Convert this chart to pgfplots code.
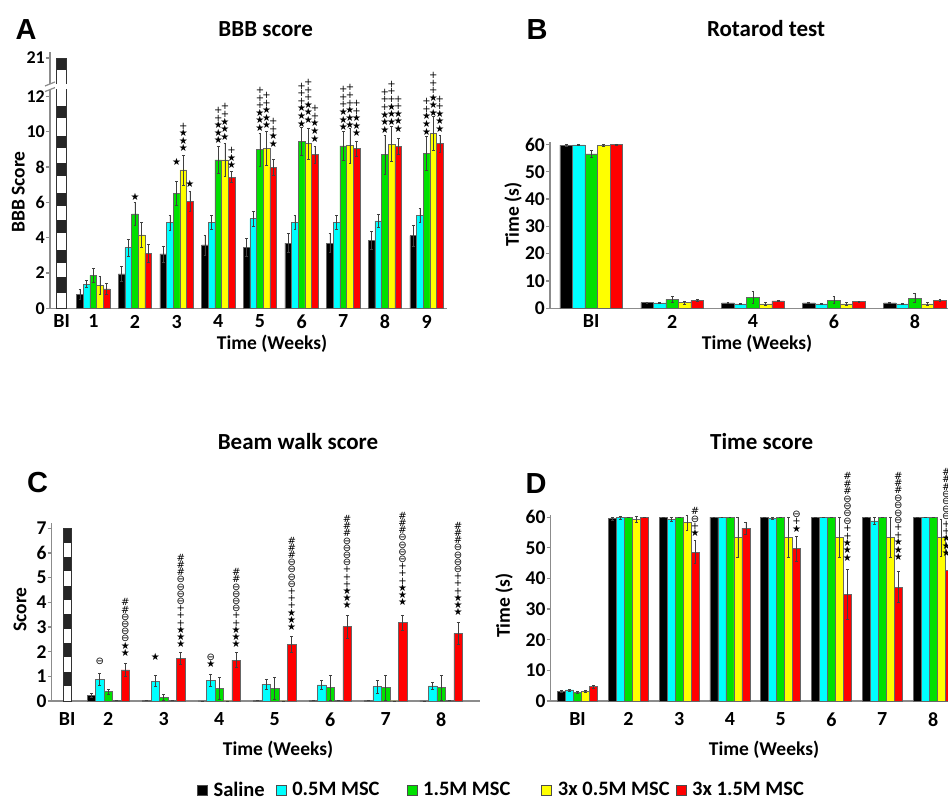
\documentclass[border=0pt]{standalone}
\usepackage{pgfplots}
\pgfplotsset{compat=1.18}
\usepackage{pgfplotstable}
\usepackage{fontspec}
\setmainfont{Carlito}
\newfontfamily\symf{DejaVu Sans}
\newfontfamily\arialf{Liberation Sans}
\lineskiplimit=-20pt

\definecolor{cCy}{HTML}{00FFFF}
\definecolor{cGr}{HTML}{00E000}
\definecolor{cYe}{HTML}{FFFF00}
\definecolor{cRe}{HTML}{FF0000}
\definecolor{axgray}{HTML}{8C8C8C}

% BBB score
\pgfplotstableread{
x s se c ce g ge y ye r re
1 0.79 0.30 1.36 0.20 1.87 0.40 1.29 0.50 1.10 0.30
2 1.95 0.40 3.44 0.47 5.35 0.64 4.16 0.70 3.12 0.50
3 3.08 0.45 4.86 0.43 6.52 0.66 7.84 0.85 6.05 0.57
4 3.59 0.57 4.86 0.38 8.41 0.76 8.41 0.95 7.43 0.32
5 3.46 0.51 5.07 0.42 8.98 0.95 9.07 0.95 8.00 0.45
6 3.69 0.53 4.86 0.38 9.45 0.80 9.32 0.90 8.70 0.47
7 3.69 0.53 4.86 0.38 9.20 0.80 9.22 1.00 9.04 0.42
8 3.84 0.50 4.95 0.35 8.70 1.10 9.30 1.00 9.17 0.47
9 4.12 0.60 5.26 0.40 8.79 0.95 9.92 0.95 9.32 0.50
}\dataA
% Rotarod
\pgfplotstableread{
x s se c ce g ge y ye r re
0 59.7 0.3 59.8 0.3 56.5 1.2 59.7 0.3 59.9 0.3
1 2.1 0.2 2.0 0.2 3.3 1.1 2.1 0.6 2.8 0.3
2 2.0 0.2 1.6 0.3 3.9 2.2 1.6 0.4 2.7 0.2
3 2.0 0.2 1.6 0.3 3.0 1.3 1.6 0.5 2.4 0.2
4 2.0 0.2 1.6 0.3 3.7 1.6 1.6 0.5 2.9 0.3
}\dataB
% Beam walk
\pgfplotstableread{
x s se c ce g ge y ye r re
2 0.24 0.08 0.88 0.25 0.38 0.10 0.02 0 1.26 0.25
3 0.02 0 0.81 0.22 0.15 0.12 0.01 0 1.73 0.25
4 0.00 0 0.85 0.25 0.51 0.45 0.00 0 1.66 0.30
5 0.02 0 0.68 0.20 0.51 0.45 0.00 0 2.30 0.33
6 0.02 0 0.65 0.18 0.54 0.50 0.02 0 3.01 0.47
7 0.02 0 0.58 0.25 0.54 0.50 0.00 0 3.17 0.32
8 0.00 0 0.61 0.15 0.54 0.50 0.03 0 2.74 0.45
}\dataC
% Time score
\pgfplotstableread{
x s se c ce g ge y ye r re
1 3.05 0.3 3.6 0.3 2.7 0.3 3.05 0.3 4.7 0.5
2 59.5 0.5 59.8 0.4 60 0 59.2 1.0 60 0
3 60 0 59.2 0.6 60 0 58.2 2.5 48.6 3.8
4 60 0 60 0 60 0 53.3 6.5 56.4 2.0
5 60 0 59.7 0.3 60 0 53.5 6.5 49.7 4.0
6 60 0 60 0 60 0 53.5 6.5 34.8 8.0
7 60 0 58.8 1.0 60 0 53.5 6.5 37.2 5.0
8 60 0 60 0 60 0 53.3 6.0 42.5 5.0
}\dataD

\pgfplotsset{
  panel/.style={
    scale only axis, clip=false,
    axis lines*=left,
    axis line style={draw=axgray, line width=1.4pt},
    ytick align=outside, xtick align=inside, major tick length=4pt,
    ytick style={draw=axgray, line width=1.2pt},
    xtick style={draw=none},
    /pgf/number format/assume math mode=true,
    yticklabel style={font=\fontsize{19.5}{19.5}\selectfont\bfseries, inner sep=0pt, xshift=-1pt},
    xticklabel style={font=\fontsize{20}{20}\selectfont\bfseries, inner sep=0pt, yshift=-2.5pt},
    ybar,
    error bars/y dir=both, error bars/y explicit,
    error bars/error bar style={line width=0.7pt, black!75},
    error bars/error mark options={rotate=90, mark size=1.4pt, line width=0.7pt, black!75},
  },
}
\newcommand{\fivebars}[3]{%
  \addplot[forget plot, fill=black, draw=black!60, line width=0.6pt, bar shift=-#3] table[x=x,y=s,y error=se]{#1};
  \addplot[forget plot, fill=cCy, draw=black!60, line width=0.6pt, bar shift=-#2] table[x=x,y=c,y error=ce]{#1};
  \addplot[forget plot, fill=cGr, draw=black!60, line width=0.6pt, bar shift=0] table[x=x,y=g,y error=ge]{#1};
  \addplot[forget plot, fill=cYe, draw=black!60, line width=0.6pt, bar shift=#2] table[x=x,y=y,y error=ye]{#1};
  \addplot[forget plot, fill=cRe, draw=black!60, line width=0.6pt, bar shift=#3] table[x=x,y=r,y error=re]{#1};
}
% one band of the chequered baseline column
\newcommand{\seg}[4]{\addplot[forget plot, fill=#1, draw=none, bar width=#4, bar shift=0, error bars/y dir=none] coordinates {(#2,#3)};}
\newcommand{\ann}[4]{\node[anchor=south, inner sep=0pt, align=center, font=\symf\fontsize{10}{#1}\selectfont] at (axis cs:#2,#3) {#4};}
\newcommand{\gap}[1]{\rule{#1}{0pt}}

\begin{document}
\begin{tikzpicture}[font=\bfseries]
\useasboundingbox (0,0) rectangle (948pt,803pt);
\clip (0,0) rectangle (948pt,803pt);

% ---------- A ----------
\begin{axis}[panel, at={(50pt,494.7pt)}, anchor=south west,
  width=397pt, height=256.3pt,
  xmin=-0.04, xmax=9.49, ymin=0, ymax=14.52,
  bar width=0.16,
  xtick={0.24,1,2,3,4,5,6,7,8,9}, xticklabels={BI,1,2,3,4,5,6,7,8,9},
  ytick={0,2,4,6,8,10,12,14.18}, yticklabels={0,2,4,6,8,10,12,21},
  yticklabel style={font=\fontsize{18}{18}\selectfont\bfseries},
]
\seg{black!85}{0.24}{14.18}{0.24}
\seg{white}{0.24}{13.52}{0.24}
\seg{black!85}{0.24}{11.44}{0.24}
\seg{white}{0.24}{10.78}{0.24}
\seg{black!85}{0.24}{9.74}{0.24}
\seg{white}{0.24}{9.07}{0.24}
\seg{black!85}{0.24}{8.22}{0.24}
\seg{white}{0.24}{7.47}{0.24}
\seg{black!85}{0.24}{6.52}{0.24}
\seg{white}{0.24}{5.77}{0.24}
\seg{black!85}{0.24}{5.01}{0.24}
\seg{white}{0.24}{4.25}{0.24}
\seg{black!85}{0.24}{3.31}{0.24}
\seg{white}{0.24}{2.55}{0.24}
\seg{black!85}{0.24}{1.80}{0.24}
\seg{white}{0.24}{0.85}{0.24}
\addplot[forget plot, fill=none, draw=black!80, line width=0.7pt, bar width=0.24, bar shift=0, error bars/y dir=none] coordinates {(0.24,14.18)};
\fivebars{\dataA}{0.16}{0.32}
\fill[white] (axis cs:-0.04,12.42) ++(-6pt,0pt) rectangle (axis cs:0.40,12.68);
\draw[axgray, line width=1.2pt] (axis cs:-0.04,12.42) ++(-5pt,-2.5pt) -- ++(10pt,4pt);
\draw[axgray, line width=1.2pt] (axis cs:-0.04,12.68) ++(-5pt,-1.5pt) -- ++(10pt,4pt);
\ann{7.6}{2}{6.1}{★}
\ann{7.6}{3}{8.1}{★}
\ann{7.6}{3.16}{8.85}{+\\★\\★\\★}
\ann{7.6}{3.32}{6.85}{★}
\ann{7.6}{4}{9.3}{+\\+\\★\\★\\★}
\ann{7.6}{4.16}{9.5}{+\\+\\★\\★\\★}
\ann{7.6}{4.32}{7.9}{+\\★\\★}
\ann{7.6}{5}{10.0}{+\\+\\+\\★\\★\\★}
\ann{7.6}{5.16}{10.15}{+\\+\\★\\★\\★}
\ann{7.6}{5.32}{9.1}{+\\+\\★\\★}
\ann{7.6}{6}{10.25}{+\\+\\+\\★\\★\\★}
\ann{7.6}{6.16}{10.45}{+\\+\\+\\★\\★\\★}
\ann{7.6}{6.32}{9.4}{+\\+\\★\\★\\★}
\ann{7.6}{7}{10.05}{+\\+\\+\\★\\★\\★}
\ann{7.6}{7.16}{10.15}{+\\+\\+\\★\\★\\★}
\ann{7.6}{7.32}{9.7}{+\\+\\★\\★\\★}
\ann{7.6}{8}{9.9}{+\\+\\+\\★\\★\\★}
\ann{7.6}{8.16}{10.35}{+\\+\\+\\★\\★\\★}
\ann{7.6}{8.32}{9.95}{+\\+\\★\\★\\★}
\ann{7.6}{9}{9.8}{+\\+\\★\\★\\★}
\ann{7.6}{9.16}{10.85}{+\\+\\+\\★\\★\\★}
\ann{7.6}{9.32}{9.95}{+\\+\\★\\★\\★}
\end{axis}

% ---------- B ----------
\begin{axis}[panel, at={(550pt,494.7pt)}, anchor=south west,
  width=405.3pt, height=166.6pt,
  xmin=-0.51, xmax=4.5, ymin=0, ymax=61,
  bar width=0.155,
  xtick={0,1,2,3,4}, xticklabels={BI,2,4,6,8},
  ytick={0,10,20,30,40,50,60},
]
\fivebars{\dataB}{0.155}{0.31}
\end{axis}

% ---------- C ----------
\begin{axis}[panel, at={(51.7pt,102pt)}, anchor=south west,
  width=428.3pt, height=177.7pt,
  xmin=0.98, xmax=8.70, ymin=0, ymax=7.2,
  bar width=0.153,
  xtick={1.26,2,3,4,5,6,7,8}, xticklabels={BI,2,3,4,5,6,7,8},
  ytick={0,1,2,3,4,5,6,7},
  xticklabel style={yshift=-5pt},
  legend image code/.code={\draw[#1, line width=0.7pt] (0pt,-5pt) rectangle (10pt,5pt); \path (16pt,0pt);},
  legend style={at={(axis description cs:0.3393,-0.5008)}, anchor=west, draw=none, fill=none,
    inner sep=0pt, outer sep=0pt, nodes={inner sep=0pt}, legend columns=5,
    font=\fontsize{20.5}{20.5}\selectfont\bfseries,
    /tikz/every even column/.append style={column sep=6pt}},
  legend cell align=left,
]
\seg{black!85}{1.26}{7.00}{0.15}
\seg{white}{1.26}{6.42}{0.15}
\seg{black!85}{1.26}{5.84}{0.15}
\seg{white}{1.26}{5.26}{0.15}
\seg{black!85}{1.26}{4.67}{0.15}
\seg{white}{1.26}{4.09}{0.15}
\seg{black!85}{1.26}{3.51}{0.15}
\seg{white}{1.26}{2.93}{0.15}
\seg{black!85}{1.26}{2.35}{0.15}
\seg{white}{1.26}{1.77}{0.15}
\seg{black!85}{1.26}{1.19}{0.15}
\seg{white}{1.26}{0.60}{0.15}
\addplot[forget plot, fill=none, draw=black!80, line width=0.7pt, bar width=0.15, bar shift=0, error bars/y dir=none] coordinates {(1.26,7)};
\fivebars{\dataC}{0.153}{0.306}
\addlegendimage{fill=black, draw=black!70}
\addlegendimage{fill=cCy, draw=black!70}
\addlegendimage{fill=cGr, draw=black!70}
\addlegendimage{fill=cYe, draw=black!70}
\addlegendimage{fill=cRe, draw=black!70}
\legend{Saline\gap{5pt}, 0.5M MSC\gap{21pt}, 1.5M MSC\gap{25pt}, 3x 0.5M MSC, 3x 1.5M MSC}
\ann{7.2}{1.847}{1.45}{⊖}
\ann{7.2}{2.306}{1.8}{\#\\\#\\⊖\\⊖\\⊖\\⊖\\★\\★}
\ann{7.2}{2.847}{1.62}{★}
\ann{7.2}{3.306}{2.15}{\#\\\#\\\#\\⊖\\⊖\\⊖\\⊖\\+\\+\\+\\★\\★\\★}
\ann{7.2}{3.847}{1.35}{⊖\\★}
\ann{7.2}{4.306}{2.15}{\#\\\#\\⊖\\⊖\\⊖\\⊖\\+\\+\\★\\★\\★}
\ann{7.2}{5.306}{2.85}{\#\\\#\\\#\\⊖\\⊖\\⊖\\⊖\\+\\+\\+\\★\\★\\★}
\ann{7.2}{6.306}{3.72}{\#\\\#\\\#\\⊖\\⊖\\⊖\\⊖\\+\\+\\+\\★\\★\\★}
\ann{7.2}{7.306}{3.85}{\#\\\#\\\#\\⊖\\⊖\\⊖\\⊖\\+\\+\\+\\★\\★\\★}
\ann{7.2}{8.306}{3.45}{\#\\\#\\\#\\⊖\\⊖\\⊖\\⊖\\+\\+\\+\\★\\★\\★}
\end{axis}

% ---------- D ----------
\begin{axis}[panel, at={(550.7pt,102pt)}, anchor=south west,
  width=407.8pt, height=186pt,
  xmin=0.472, xmax=8.5, ymin=0, ymax=60.7,
  bar width=0.157,
  xtick={1,2,3,4,5,6,7,8}, xticklabels={BI,2,3,4,5,6,7,8},
  ytick={0,10,20,30,40,50,60},
  xticklabel style={yshift=-5pt},
]
\fivebars{\dataD}{0.157}{0.314}
\ann{7.4}{3.314}{53.5}{\#\\⊖\\+\\★}
\ann{7.4}{5.314}{55.0}{⊖\\+\\★}
\ann{7.4}{6.314}{45.5}{\#\\\#\\\#\\⊖\\⊖\\⊖\\⊖\\+\\+\\★\\★\\★}
\ann{7.4}{7.314}{45.8}{\#\\\#\\\#\\⊖\\⊖\\⊖\\⊖\\+\\+\\★\\★\\★}
\ann{7.4}{8.26}{47.0}{\#\\\#\\\#\\⊖\\⊖\\⊖\\⊖\\+\\+\\★\\★\\★}
\end{axis}

% ---------- titles and labels ----------
\node[font=\arialf\bfseries\fontsize{29}{29}\selectfont] at (26pt,773pt) {A};
\node[font=\arialf\bfseries\fontsize{29}{29}\selectfont] at (537pt,773pt) {B};
\node[font=\arialf\bfseries\fontsize{29}{29}\selectfont] at (37.5pt,320.5pt) {C};
\node[font=\arialf\bfseries\fontsize{29}{29}\selectfont] at (536pt,319.5pt) {D};
\node[font=\fontsize{23}{24}\selectfont\bfseries] at (265.7pt,773.5pt) {BBB score};
\node[font=\fontsize{23}{24}\selectfont\bfseries] at (766pt,774pt) {Rotarod test};
\node[font=\fontsize{23}{24}\selectfont\bfseries] at (298pt,361.3pt) {Beam walk score};
\node[font=\fontsize{23}{24}\selectfont\bfseries] at (761.7pt,361.3pt) {Time score};
\node[font=\fontsize{19.5}{20}\selectfont\bfseries, rotate=90] at (18.3pt,611pt) {BBB Score};
\node[font=\fontsize{19.5}{20}\selectfont\bfseries, rotate=90] at (513pt,588.5pt) {Time (s)};
\node[font=\fontsize{19.5}{20}\selectfont\bfseries, rotate=90] at (20pt,193.5pt) {Score};
\node[font=\fontsize{19.5}{20}\selectfont\bfseries, rotate=90] at (504pt,197.3pt) {Time (s)};
\node[font=\fontsize{19.5}{20}\selectfont\bfseries] at (272pt,459pt) {Time (Weeks)};
\node[font=\fontsize{19.5}{20}\selectfont\bfseries] at (757pt,459pt) {Time (Weeks)};
\node[font=\fontsize{19.5}{20}\selectfont\bfseries] at (278pt,53pt) {Time (Weeks)};
\node[font=\fontsize{19.5}{20}\selectfont\bfseries] at (764pt,53pt) {Time (Weeks)};
\end{tikzpicture}
\end{document}
